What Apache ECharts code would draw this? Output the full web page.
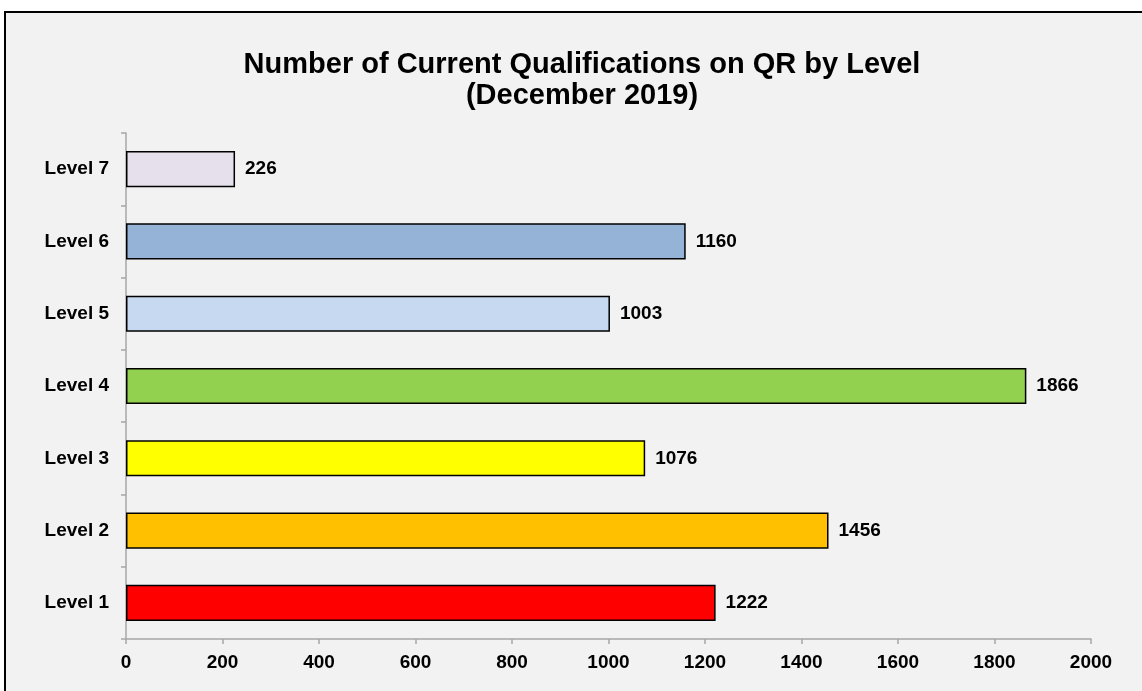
<!DOCTYPE html>
<html>
<head>
<meta charset="utf-8">
<script src="https://cdn.jsdelivr.net/npm/echarts@6/dist/echarts.min.js"></script>
<style>
  html, body { margin: 0; padding: 0; background: #ffffff; }
  #chart { width: 1142px; height: 691px; }
</style>
</head>
<body>
<div id="chart"></div>
<script>
// data (bottom to top, as the axis draws it)
var levels = ['Level 1', 'Level 2', 'Level 3', 'Level 4', 'Level 5', 'Level 6', 'Level 7'];
var counts = [1222, 1456, 1076, 1866, 1003, 1160, 226];
var barColors = ['#ff0000', '#ffc000', '#ffff00', '#92d050', '#c6d9f1', '#95b3d7', '#e6e0ec'];
var xTicks = [0, 200, 400, 600, 800, 1000, 1200, 1400, 1600, 1800, 2000];

var myChart = echarts.init(document.getElementById('chart'));

var font = 'Liberation Sans, Arial, sans-serif';

var option = {
	animation: false,
	backgroundColor: '#ffffff',
	graphic: [{
		type: 'rect',
		z: -10,
		shape: { x: 5, y: 12, width: 1200, height: 720 },
		style: { fill: '#f2f2f2', stroke: '#000000', lineWidth: 2 }
	}],
	title: {
		text: 'Number of Current Qualifications on QR by Level\n(December 2019)',
		left: 577,
		top: 44,
		textAlign: 'center',
		textStyle: {
			fontFamily: font,
			fontWeight: 'bold',
			fontSize: 29,
			lineHeight: 31,
			color: '#000'
		}
	},
	grid: {
		left: 126,
		right: 51,
		top: 133,
		bottom: 52,
		containLabel: false
	},
	xAxis: {
		type: 'value',
		min: xTicks[0],
		max: xTicks[xTicks.length - 1],
		interval: 200,
		splitLine: { show: false },
		axisLine: { show: true, lineStyle: { color: '#a6a6a6', width: 1.5 } },
		axisTick: { show: true, length: 5, lineStyle: { color: '#a6a6a6', width: 1.5 } },
		axisLabel: {
			margin: 14,
			formatter: function (v) { return String(v); },
			fontFamily: font,
			fontWeight: 'bold',
			fontSize: 19,
			color: '#000'
		}
	},
	yAxis: {
		type: 'category',
		data: levels,
		axisLine: { show: true, lineStyle: { color: '#a6a6a6', width: 1.5 } },
		axisTick: { show: true, length: 5, lineStyle: { color: '#a6a6a6', width: 1.5 } },
		axisLabel: {
			margin: 17,
			fontFamily: font,
			fontWeight: 'bold',
			fontSize: 19,
			color: '#000'
		}
	},
	series: [{
		type: 'bar',
		data: counts.map(function (v, i) {
			return { value: v, itemStyle: { color: barColors[i] } };
		}),
		barWidth: '50%',
		itemStyle: { borderColor: '#000', borderWidth: 1.5 },
		label: {
			show: true,
			position: 'right',
			distance: 10,
			fontFamily: font,
			fontWeight: 'bold',
			fontSize: 19,
			color: '#000'
		}
	}]
};

myChart.setOption(option, true);
</script>
</body>
</html>
